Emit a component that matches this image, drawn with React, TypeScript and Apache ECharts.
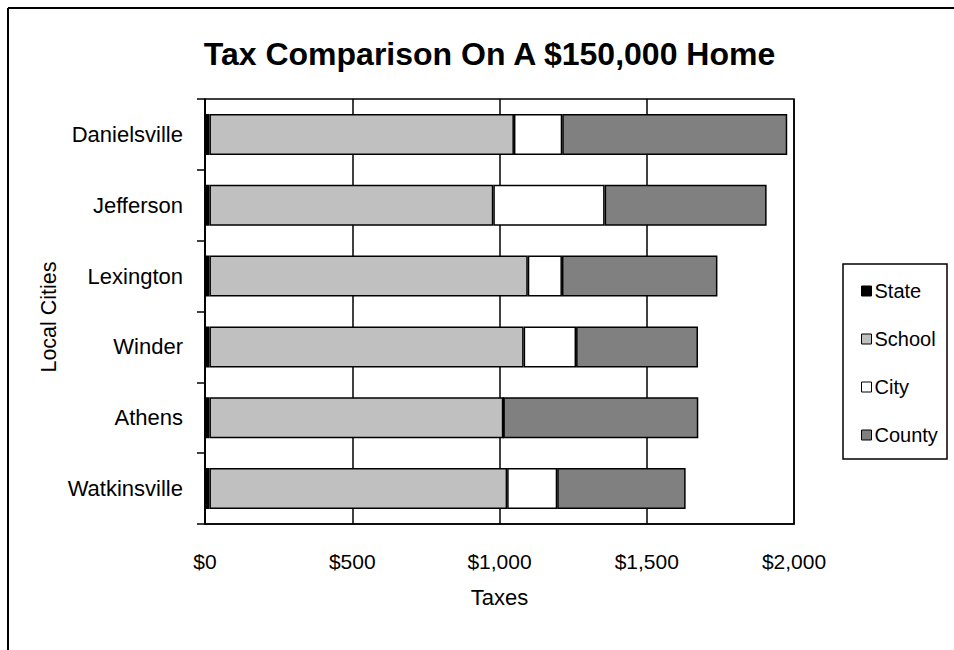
import React, { useEffect, useRef } from "react";
import * as echarts from "echarts";

const cities = ["Danielsville", "Jefferson", "Lexington", "Winder", "Athens", "Watkinsville"];
const stateTax = [15, 15, 15, 15, 15, 15];
const schoolTax = [1034, 964, 1081, 1067, 998, 1011];
const cityTax = [164, 378, 116, 178, 0, 170];
const countyTax = [764, 550, 528, 414, 662, 436];
const xTicks = [0, 500, 1000, 1500, 2000];
const seriesNames = ["State", "School", "City", "County"];
const seriesColors = ["#000000", "#c0c0c0", "#ffffff", "#808080"];

const FONT = "'Liberation Sans', Arial, sans-serif";

export default function App() {
  const ref = useRef<HTMLDivElement>(null);
  useEffect(() => {
    if (!ref.current) return;
    const chart = echarts.init(ref.current, null, { renderer: "svg" });
    const data = [stateTax, schoolTax, cityTax, countyTax];
    const fmt = (v: number) => "$" + v.toLocaleString("en-US");
    chart.setOption({
      animation: false,
      backgroundColor: "#ffffff",
      textStyle: { fontFamily: FONT, color: "#000" },
      grid: {
        left: 205,
        top: 99,
        right: 160,
        bottom: 126,
        show: true,
        borderColor: "#000",
        borderWidth: 1.5,
        backgroundColor: "transparent",
      },
      xAxis: {
        type: "value",
        min: xTicks[0],
        max: xTicks[xTicks.length - 1],
        interval: 500,
        name: "Taxes",
        nameLocation: "middle",
        nameGap: 62,
        nameTextStyle: { fontSize: 22, color: "#000", fontFamily: FONT },
        axisLine: { show: true, lineStyle: { color: "#000", width: 1.5 } },
        axisTick: { show: false },
        axisLabel: {
          fontSize: 21,
          color: "#000",
          margin: 27,
          fontFamily: FONT,
          formatter: (v: number) => fmt(v),
        },
        splitLine: { show: true, lineStyle: { color: "#000", width: 1.5 } },
      },
      yAxis: {
        type: "category",
        data: cities,
        inverse: true,
        axisLine: { show: true, lineStyle: { color: "#000", width: 1.5 } },
        axisTick: { show: true, length: 8, inside: false, lineStyle: { color: "#000", width: 1.5 } },
        axisLabel: { fontSize: 22, color: "#000", margin: 22, fontFamily: FONT },
        splitLine: { show: false },
      },
      legend: {
        orient: "vertical",
        left: 856,
        top: 276,
        itemWidth: 10,
        itemHeight: 10,
        itemGap: 28,
        icon: "rect",
        textStyle: { fontSize: 20, color: "#000", fontFamily: FONT, padding: [0, 0, 0, -2] },
        data: seriesNames.map((n) => ({ name: n, itemStyle: { borderColor: "#000", borderWidth: 1 } })),
      },
      graphic: [
        {
          type: "line",
          shape: { x1: 8, y1: 8, x2: 954, y2: 8 },
          style: { stroke: "#000", lineWidth: 2 },
        },
        {
          type: "line",
          shape: { x1: 8, y1: 8, x2: 8, y2: 650 },
          style: { stroke: "#000", lineWidth: 2 },
        },
        {
          type: "rect",
          shape: { x: 843, y: 264, width: 104, height: 195 },
          style: { fill: "transparent", stroke: "#000", lineWidth: 1.5 },
        },
        {
          type: "text",
          x: 489.5,
          y: 54,
          style: {
            text: "Tax Comparison On A $150,000 Home",
            font: "bold 32px " + FONT,
            fill: "#000",
            textAlign: "center",
            textVerticalAlign: "middle",
          },
        },
        {
          type: "text",
          x: 49,
          y: 317,
          rotation: Math.PI / 2,
          style: {
            text: "Local Cities",
            font: "21.5px " + FONT,
            fill: "#000",
            textAlign: "center",
            textVerticalAlign: "middle",
          },
        },
      ],
      series: seriesNames.map((n, i) => ({
        name: n,
        type: "bar",
        stack: "total",
        barWidth: 41,
        data: data[i],
        itemStyle: { color: seriesColors[i], borderColor: "#000", borderWidth: 1.5 },
        emphasis: { disabled: true },
      })),
    });
    return () => chart.dispose();
  }, []);
  return (
    <div
      ref={ref}
      style={{ position: "absolute", left: 0, top: 0, width: 954, height: 650 }}
    />
  );
}
